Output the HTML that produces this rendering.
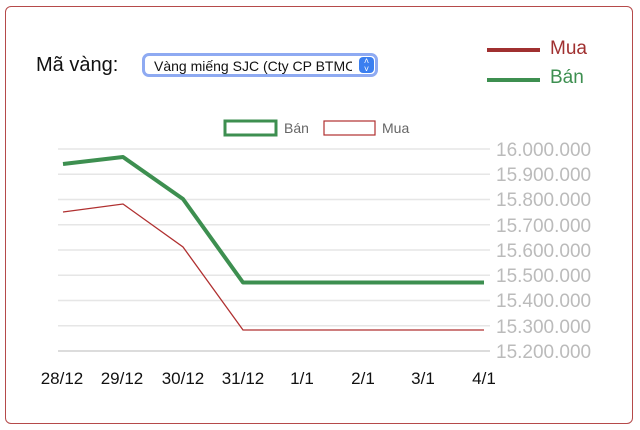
<!DOCTYPE html>
<html><head><meta charset="utf-8"><style>
body{margin:0;width:640px;height:430px;background:#fff;overflow:hidden;font-family:"Liberation Sans",sans-serif}
.frame{position:absolute;left:5px;top:6px;width:626px;height:416px;border:1.5px solid #b54a4a;border-radius:6px}
</style></head><body>
<div class="frame"></div>
<div style="position:absolute;left:36px;top:54px;font-size:20px;color:#111;font-family:'Liberation Sans',sans-serif;font-weight:300">Mã vàng:</div>
<div style="position:absolute;left:142px;top:53px;width:236px;height:24px;border:3px solid #8eaaf2;border-radius:7px;box-sizing:border-box;background:#fff"></div>
<div style="position:absolute;left:154px;top:58px;width:198px;overflow:hidden;white-space:nowrap;font-size:14px;color:#111">Vàng miếng SJC (Cty CP BTMC)</div>
<div style="position:absolute;left:359px;top:57px;width:15px;height:16px;background:#3b7ff0;border-radius:4px;color:#fff;font-size:9px;text-align:center;line-height:8px">˄<br>˅</div>
<div style="position:absolute;left:487px;top:48px;width:53px;height:4px;background:#a03030"></div>
<div style="position:absolute;left:550px;top:38px;font-size:19px;color:#a03030;font-family:'Liberation Sans',sans-serif">Mua</div>
<div style="position:absolute;left:487px;top:78px;width:53px;height:4px;background:#3d8f50"></div>
<div style="position:absolute;left:550px;top:67px;font-size:19px;color:#3d8f50;font-family:'Liberation Sans',sans-serif">Bán</div>
<svg width="640" height="430" style="position:absolute;left:0;top:0">
<rect x="225" y="121" width="51" height="14" fill="none" stroke="#3d8f50" stroke-width="3"/>
<text x="284" y="133" font-size="14" fill="#666" font-family="Liberation Sans">Bán</text>
<rect x="324" y="121" width="51" height="14" fill="none" stroke="#b03030" stroke-width="1.2"/>
<text x="382" y="133" font-size="14" fill="#666" font-family="Liberation Sans">Mua</text>
<g stroke="#e6e6e6" stroke-width="1.5">
<line x1="58" x2="490" y1="149" y2="149"/><line x1="58" x2="490" y1="174.3" y2="174.3"/>
<line x1="58" x2="490" y1="199.5" y2="199.5"/><line x1="58" x2="490" y1="224.8" y2="224.8"/>
<line x1="58" x2="490" y1="250" y2="250"/><line x1="58" x2="490" y1="275.3" y2="275.3"/>
<line x1="58" x2="490" y1="300.5" y2="300.5"/><line x1="58" x2="490" y1="325.8" y2="325.8"/>
<line x1="58" x2="490" y1="351" y2="351" stroke="#d0d0d0"/>
</g>
<g font-size="19" fill="#bbb" font-family="Liberation Sans">
<text x="496" y="156">16.000.000</text><text x="496" y="181">15.900.000</text>
<text x="496" y="206">15.800.000</text><text x="496" y="232">15.700.000</text>
<text x="496" y="257">15.600.000</text><text x="496" y="282">15.500.000</text>
<text x="496" y="307">15.400.000</text><text x="496" y="333">15.300.000</text>
<text x="496" y="358">15.200.000</text>
</g>
<polyline fill="none" stroke="#b03030" stroke-width="1.3" points="63,212 123,204 183,247 243,330 484,330"/>
<polyline fill="none" stroke="#3d8f50" stroke-width="4" stroke-linejoin="round" points="63,164 123,157 183,199 243,282.5 484,282.5"/>
<g font-size="17" fill="#111" font-family="Liberation Sans" text-anchor="middle">
<text x="62" y="384">28/12</text><text x="122" y="384">29/12</text><text x="183" y="384">30/12</text>
<text x="243" y="384">31/12</text><text x="302" y="384">1/1</text><text x="363" y="384">2/1</text>
<text x="423" y="384">3/1</text><text x="484" y="384">4/1</text>
</g>
</svg>
</body></html>
